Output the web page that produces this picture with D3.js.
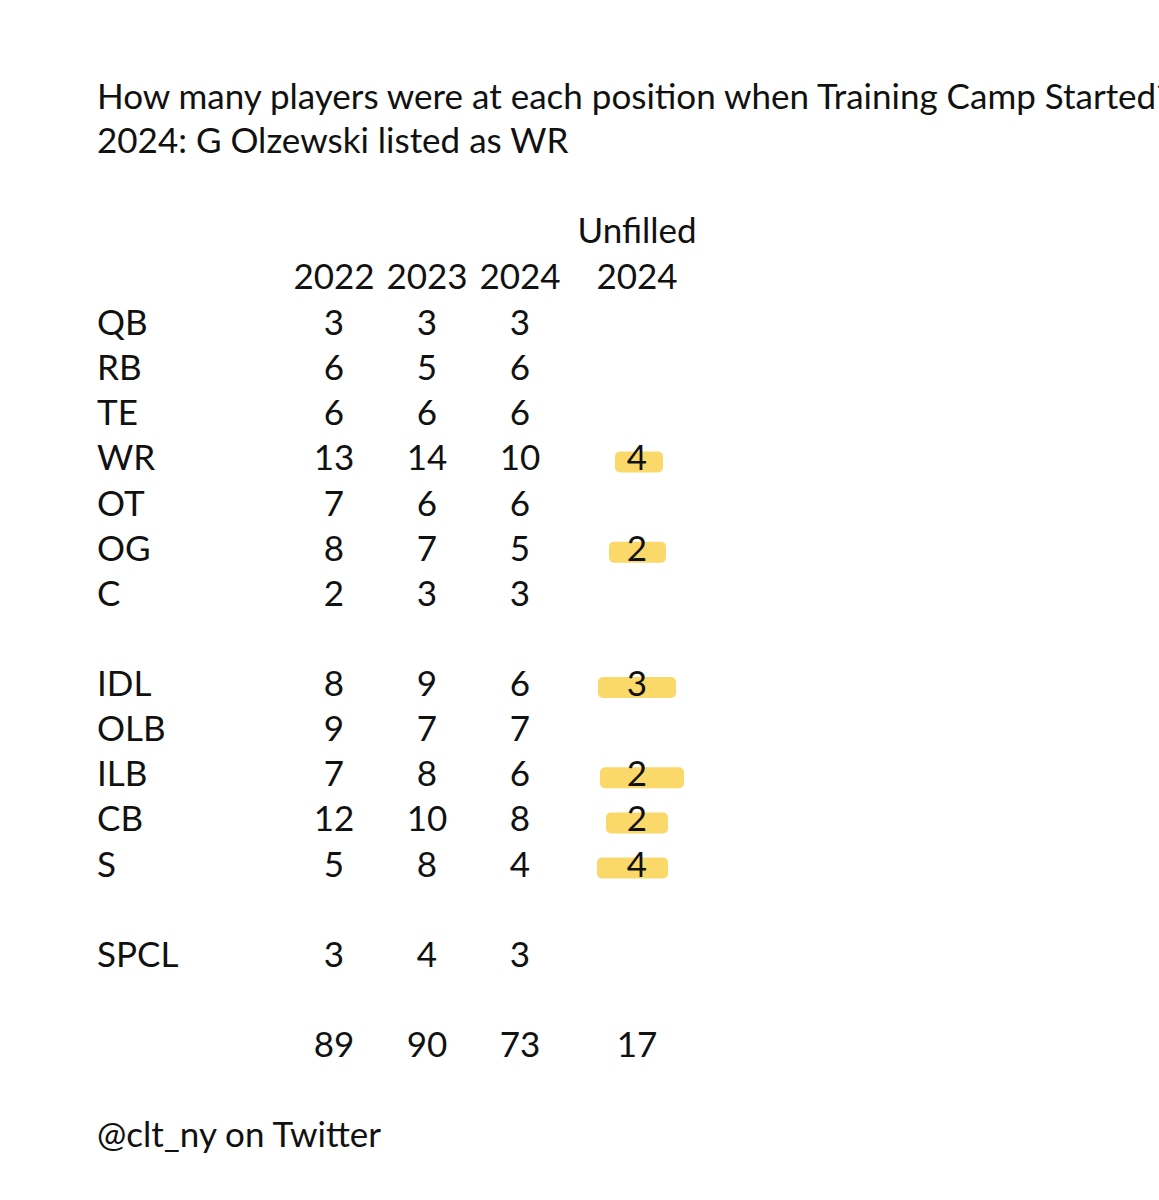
<!DOCTYPE html>
<html><head><meta charset="utf-8">
<script src="https://cdn.jsdelivr.net/npm/d3@7"></script>
<style>body{margin:0;background:#fff}text{font-family:Lato,"Liberation Sans","Open Sans",sans-serif;fill:#111}</style>
</head><body><div id="chart"></div>
<script>
const positions = ["QB","RB","TE","WR","OT","OG","C","IDL","OLB","ILB","CB","S","SPCL"];
const rowSlots = [0,1,2,3,4,5,6,8,9,10,11,12,14];
const v2022 = [3,6,6,13,7,8,2,8,9,7,12,5,3];
const v2023 = [3,5,6,14,6,7,3,9,7,8,10,8,4];
const v2024 = [3,6,6,10,6,5,3,6,7,6,8,4,3];
const unfilled = [null,null,null,4,null,2,null,3,null,2,2,4,null];
const markSpan = [null,null,null,[615,663],null,[609,666],null,[598,676],null,[600,684],[606,668],[597,668],null];
const totals = [89,90,73,17];
const columns = ["2022","2023","2024","2024"];

const svg = d3.select("#chart").append("svg").attr("width",1159).attr("height",1200);
const y = d3.scaleLinear().domain([0,16]).range([323,1045]);
const x = d3.scalePoint().domain(["c0","c1","c2"]).range([334,520]);
const xc = i => i === 3 ? 637 : x("c"+i);
const fs = 35;

svg.append("text").attr("x",97).attr("y",109).attr("font-size",fs)
  .text("How many players were at each position when Training Camp Started?");
svg.append("text").attr("x",97).attr("y",153).attr("font-size",fs)
  .text("2024: G Olzewski listed as WR");

svg.append("text").attr("x",637).attr("y",243).attr("font-size",fs).attr("text-anchor","middle").text("Unfilled");
columns.forEach((c,i)=>svg.append("text").attr("x",xc(i)).attr("y",289).attr("font-size",fs).attr("text-anchor","middle").text(c));

unfilled.forEach((u,i)=>{
  if(u==null) return;
  const cy = y(rowSlots[i]) + 4;
  const s = markSpan[i];
  svg.append("rect").attr("x",s[0]).attr("y",cy-11).attr("width",s[1]-s[0]).attr("height",21)
    .attr("rx",5).attr("fill","#f9d250").attr("opacity",0.85);
});

positions.forEach((p,i)=>{
  const cy = y(rowSlots[i]) + 12;
  svg.append("text").attr("x",97).attr("y",cy).attr("font-size",fs).text(p);
  [v2022[i],v2023[i],v2024[i],unfilled[i]].forEach((v,j)=>{
    if(v==null) return;
    svg.append("text").attr("x",xc(j)).attr("y",cy).attr("font-size",fs).attr("text-anchor","middle").text(v);
  });
});
totals.forEach((t,j)=>svg.append("text").attr("x",xc(j)).attr("y",y(16)+12).attr("font-size",fs).attr("text-anchor","middle").text(t));

svg.append("text").attr("x",97).attr("y",1147).attr("font-size",fs).text("@clt_ny on Twitter");
</script></body></html>
